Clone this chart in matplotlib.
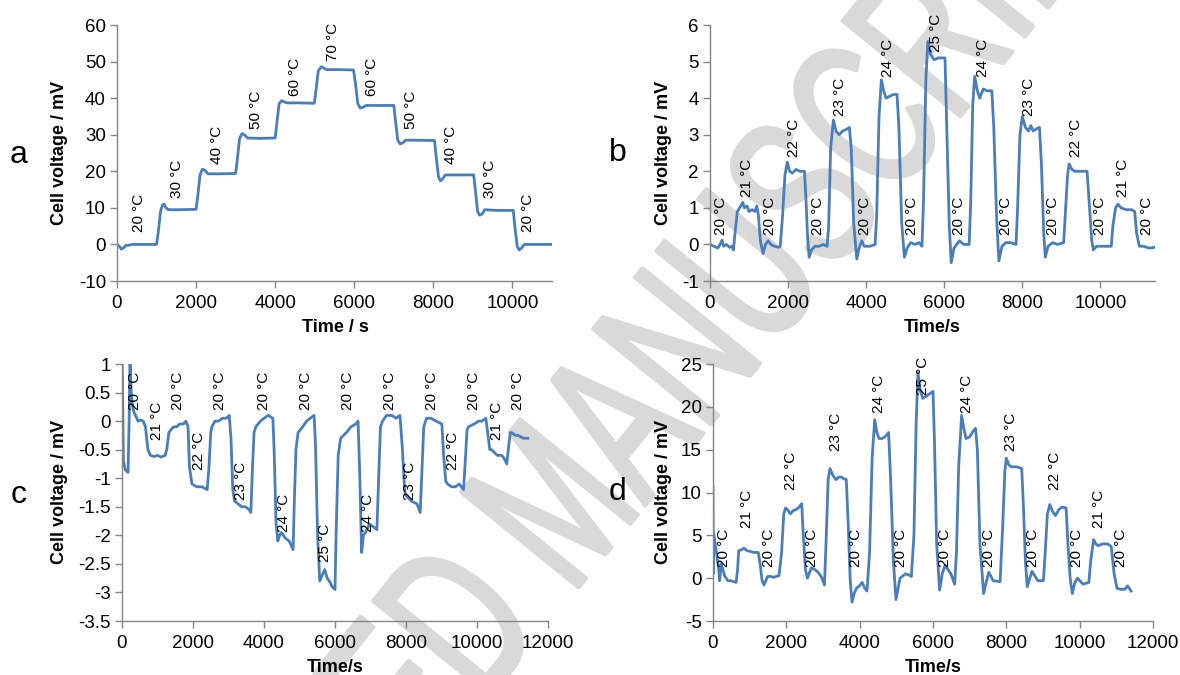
import matplotlib
matplotlib.use("Agg")
import matplotlib.pyplot as plt
from matplotlib.textpath import TextPath
from matplotlib.patches import PathPatch
from matplotlib.font_manager import FontProperties
from matplotlib.transforms import Affine2D, IdentityTransform
from matplotlib.ticker import MultipleLocator, FormatStrFormatter

plt.rcParams['font.family'] = ['Liberation Sans', 'DejaVu Sans']
plt.rcParams['axes.unicode_minus'] = False

# ---------------- data (time / s, cell voltage / mV) ----------------
a_points = [(0, 0), (60, -0.5), (110, -1.3), (160, -1.0), (220, -0.3), (300, -0.2), (400, 0), (1000, 0),
            (1040, 3), (1100, 9), (1150, 10.8), (1190, 11), (1240, 10), (1300, 9.5), (1600, 9.5), (2000, 9.6),
            (2040, 13), (2100, 19), (2160, 20.6), (2220, 20.3), (2300, 19.3), (2600, 19.3), (3000, 19.4),
            (3040, 23), (3100, 29), (3160, 30.3), (3220, 30), (3300, 29.1), (3600, 29), (4000, 29.1),
            (4040, 33), (4100, 38.5), (4160, 39.3), (4220, 39), (4300, 38.7), (4600, 38.7), (4990, 38.6),
            (5030, 42), (5090, 47.5), (5170, 48.6), (5230, 48.2), (5300, 47.8), (5600, 47.8), (5980, 47.7),
            (6030, 44), (6090, 38.5), (6150, 37.3), (6220, 37.5), (6300, 38), (6600, 38), (7000, 38),
            (7040, 34), (7100, 28.5), (7160, 27.5), (7230, 27.8), (7300, 28.5), (7600, 28.5), (8030, 28.4),
            (8070, 24), (8130, 18.5), (8180, 17.4), (8240, 18), (8300, 19), (8600, 19), (9020, 19),
            (9060, 15), (9120, 9), (9170, 8), (9230, 8.3), (9300, 9.5), (9600, 9.3), (10020, 9.3),
            (10060, 5), (10120, -0.5), (10170, -1.5), (10230, -1.0), (10300, 0), (10600, 0), (11000, 0)]

b_points = [(0, 0), (100, -0.05), (200, -0.1), (260, 0.0), (310, 0.12), (350, -0.05), (420, 0.0), (500, -0.08),
            (560, -0.05), (600, -0.15), (640, 0.3), (700, 0.9), (760, 1.0), (840, 1.15), (880, 1.0), (950, 1.05),
            (1000, 0.9), (1080, 0.95), (1150, 0.9), (1200, 1.05), (1240, 0.8), (1290, 0.1), (1360, -0.25),
            (1420, 0.0), (1490, 0.1), (1560, 0.0), (1650, -0.05), (1750, -0.08), (1800, -0.05), (1860, 0.8),
            (1920, 1.9), (1980, 2.25), (2040, 2.0), (2110, 1.95), (2200, 2.05), (2300, 2.0), (2420, 2.0),
            (2460, 1.2), (2500, 0.2), (2540, -0.35), (2600, -0.15), (2690, -0.05), (2800, -0.05), (2900, 0.0),
            (3000, -0.05), (3040, 0.5), (3090, 2.6), (3160, 3.4), (3230, 3.1), (3310, 3.0), (3400, 3.1),
            (3500, 3.15), (3570, 3.2), (3620, 2.6), (3680, 0.6), (3760, -0.4), (3820, -0.1), (3890, 0.1),
            (3950, -0.05), (4100, -0.05), (4230, 0.0), (4270, 0.8), (4330, 3.5), (4390, 4.5), (4450, 4.2),
            (4510, 4.0), (4600, 4.05), (4700, 4.1), (4790, 4.1), (4840, 3.2), (4910, 0.6), (4980, -0.35),
            (5050, -0.1), (5140, 0.05), (5250, 0.0), (5350, 0.05), (5430, -0.05), (5470, 1.2), (5530, 4.5),
            (5580, 5.55), (5650, 5.2), (5740, 5.05), (5850, 5.1), (5950, 5.1), (6020, 5.1), (6070, 3.0),
            (6130, 0.5), (6180, -0.5), (6250, -0.1), (6390, 0.1), (6500, 0.0), (6640, 0.0), (6680, 1.2),
            (6730, 3.8), (6780, 4.6), (6850, 4.2), (6910, 4.0), (7000, 4.25), (7100, 4.2), (7220, 4.2),
            (7270, 3.2), (7340, 0.8), (7400, -0.45), (7480, -0.05), (7580, 0.05), (7700, 0.05), (7840, 0.0),
            (7880, 1.0), (7940, 3.0), (8000, 3.5), (8080, 3.2), (8160, 3.1), (8220, 3.25), (8280, 3.1),
            (8350, 3.15), (8440, 3.2), (8490, 2.2), (8550, 0.3), (8590, -0.35), (8660, -0.05), (8780, 0.05),
            (8900, 0.0), (9060, 0.05), (9100, 0.8), (9160, 1.9), (9200, 2.2), (9270, 2.05), (9350, 2.0),
            (9500, 2.0), (9660, 2.0), (9710, 1.2), (9780, 0.1), (9820, -0.15), (9900, -0.05), (10050, -0.05),
            (10200, -0.05), (10280, -0.05), (10320, 0.5), (10390, 1.0), (10450, 1.1), (10530, 1.0),
            (10660, 0.95), (10800, 0.95), (10880, 0.9), (10930, 0.3), (11000, -0.05), (11100, -0.05),
            (11250, -0.1), (11400, -0.08)]

c_points = [(0, 1.3), (40, -0.7), (90, -0.85), (170, -0.9), (200, 0.0), (225, 1.1), (260, 0.5), (300, 0.25),
            (340, 0.15), (380, 0.1), (450, 0.0), (520, 0.02), (600, 0.0), (660, -0.1), (730, -0.5), (800, -0.6),
            (900, -0.62), (1000, -0.6), (1100, -0.63), (1215, -0.6), (1260, -0.5), (1320, -0.2), (1380, -0.15),
            (1460, -0.1), (1540, -0.1), (1620, -0.05), (1730, -0.05), (1800, 0.0), (1860, -0.1), (1900, -0.8),
            (1970, -1.1), (2100, -1.15), (2250, -1.15), (2400, -1.2), (2450, -0.8), (2500, -0.2), (2530, -0.1),
            (2620, 0.0), (2720, 0.0), (2830, 0.05), (2935, 0.05), (3020, 0.1), (3070, -0.3), (3120, -1.2),
            (3170, -1.4), (3270, -1.45), (3370, -1.5), (3480, -1.5), (3580, -1.55), (3630, -1.6), (3670, -0.9),
            (3720, -0.2), (3770, -0.1), (3900, 0.0), (4000, 0.05), (4120, 0.1), (4250, 0.05), (4290, -0.6),
            (4340, -1.8), (4390, -2.1), (4440, -2.0), (4490, -1.95), (4600, -2.05), (4710, -2.1), (4820, -2.25),
            (4850, -1.5), (4900, -0.5), (4960, -0.2), (5090, -0.1), (5200, 0.0), (5300, 0.05), (5410, 0.1),
            (5450, -0.4), (5510, -2.0), (5570, -2.8), (5640, -2.7), (5710, -2.6), (5780, -2.75), (5840, -2.8),
            (5920, -2.9), (6000, -2.95), (6030, -2.0), (6090, -0.6), (6160, -0.3), (6240, -0.25), (6320, -0.2),
            (6450, -0.1), (6590, -0.05), (6650, 0.0), (6700, -1.0), (6750, -2.3), (6800, -2.0), (6860, -1.95),
            (6970, -1.8), (7080, -1.85), (7180, -1.9), (7230, -1.0), (7280, -0.1), (7340, 0.0), (7450, 0.1),
            (7600, 0.1), (7720, 0.05), (7830, 0.1), (7900, -0.5), (7960, -1.2), (7990, -1.3), (8150, -1.4),
            (8310, -1.45), (8400, -1.6), (8440, -1.0), (8500, -0.1), (8580, 0.05), (8700, 0.05), (8850, 0.0),
            (9010, -0.05), (9060, -0.6), (9120, -1.05), (9170, -1.1), (9280, -1.15), (9390, -1.15), (9500, -1.1),
            (9620, -1.2), (9660, -0.8), (9720, -0.15), (9760, -0.1), (9920, -0.05), (10050, 0.0), (10140, 0.0),
            (10250, 0.05), (10300, -0.2), (10360, -0.5), (10410, -0.5), (10570, -0.6), (10700, -0.6),
            (10760, -0.65), (10840, -0.75), (10880, -0.5), (10940, -0.2), (10980, -0.2), (11080, -0.25),
            (11160, -0.25), (11300, -0.3), (11430, -0.3)]

d_points = [(0, 10.7), (10, 0.5), (20, 5.2), (60, 4.0), (110, 2.5), (160, 0.9), (180, -0.3), (225, 1.7),
            (315, 0.3), (405, -0.3), (500, -0.3), (630, -0.5), (670, 1.0), (700, 3.2), (770, 3.3), (845, 3.5),
            (930, 3.2), (1030, 3.1), (1130, 3.0), (1235, 3.0), (1290, 1.5), (1340, -0.3), (1390, -0.8),
            (1490, 0.2), (1570, 0.2), (1650, 0.1), (1800, 0.3), (1870, 3.0), (1930, 7.5), (1980, 8.2),
            (2050, 7.9), (2110, 7.5), (2190, 7.9), (2265, 8.0), (2350, 8.3), (2420, 8.7), (2450, 6.0),
            (2520, 1.0), (2575, 0.0), (2680, 1.2), (2780, 1.0), (2860, 0.7), (2935, 0.3), (3000, -0.3),
            (3040, -0.8), (3090, 5.0), (3140, 11.5), (3190, 12.8), (3270, 12.0), (3350, 11.5), (3430, 11.8),
            (3500, 11.8), (3570, 11.6), (3635, 11.5), (3690, 6.0), (3740, 0.0), (3790, -2.8), (3850, -1.8),
            (3910, -1.2), (3990, -0.9), (4070, -0.5), (4140, -1.2), (4200, -1.5), (4270, 3.0), (4340, 14.0),
            (4410, 18.5), (4470, 17.0), (4530, 16.3), (4610, 16.3), (4690, 16.5), (4790, 17.0), (4840, 12.0),
            (4920, 2.0), (4990, -2.5), (5100, 0.0), (5250, 0.5), (5330, 0.4), (5410, 0.2), (5480, 5.0),
            (5540, 18.0), (5590, 24.0), (5650, 22.0), (5720, 21.0), (5800, 21.2), (5900, 21.5), (6000, 21.8),
            (6040, 16.0), (6100, 4.0), (6180, -1.4), (6250, 0.5), (6330, 1.5), (6410, 1.0), (6490, 0.5),
            (6590, -0.7), (6640, 3.0), (6700, 13.0), (6780, 19.0), (6840, 17.5), (6900, 16.3), (7000, 16.5),
            (7100, 17.2), (7160, 17.5), (7210, 15.0), (7280, 4.0), (7380, -1.8), (7450, -0.5), (7520, 0.7),
            (7640, -0.3), (7830, -0.4), (7900, 6.0), (7960, 12.5), (8000, 14.0), (8070, 13.2), (8140, 13.0),
            (8280, 13.0), (8420, 12.8), (8470, 8.0), (8520, 2.0), (8570, -1.0), (8640, 0.0), (8700, 0.8),
            (8860, -0.3), (9010, -0.3), (9060, 3.0), (9120, 7.5), (9185, 8.6), (9260, 7.8), (9340, 7.3),
            (9430, 8.0), (9525, 8.3), (9630, 8.2), (9680, 4.0), (9740, 0.0), (9800, -1.8), (9870, -0.5),
            (9940, 0.0), (10090, -0.7), (10250, -0.5), (10300, 2.0), (10380, 4.5), (10440, 4.0), (10500, 3.8),
            (10630, 4.0), (10760, 4.0), (10860, 3.7), (10940, 0.5), (11020, -1.2), (11130, -1.3),
            (11230, -1.3), (11310, -0.9), (11400, -1.5)]

# temperature annotations: (label, time, voltage at text bottom)
a_labels = [("20 °C", 550, 3.5), ("30 °C", 1510, 12.6), ("40 °C", 2520, 22), ("50 °C", 3510, 31.5),
            ("60 °C", 4490, 40.6), ("70 °C", 5470, 50.2), ("60 °C", 6460, 40.6), ("50 °C", 7440, 31.5),
            ("40 °C", 8450, 22), ("30 °C", 9420, 12.6), ("20 °C", 10400, 3.5)]
b_labels = [("20 °C", 290, 0.27), ("21 °C", 940, 1.3), ("20 °C", 1540, 0.27), ("22 °C", 2150, 2.4),
            ("20 °C", 2770, 0.27), ("23 °C", 3340, 3.5), ("20 °C", 3970, 0.27), ("24 °C", 4550, 4.57),
            ("20 °C", 5170, 0.27), ("25 °C", 5780, 5.27), ("20 °C", 6390, 0.27), ("24 °C", 6990, 4.57),
            ("20 °C", 7580, 0.27), ("23 °C", 8180, 3.5), ("20 °C", 8780, 0.27), ("22 °C", 9375, 2.4),
            ("20 °C", 10000, 0.27), ("21 °C", 10590, 1.3), ("20 °C", 11200, 0.27)]
c_labels = [("20 °C", 355, 0.19), ("21 °C", 980, -0.33), ("20 °C", 1590, 0.19), ("22 °C", 2160, -0.86),
            ("20 °C", 2770, 0.19), ("23 °C", 3340, -1.39), ("20 °C", 4010, 0.19), ("24 °C", 4550, -1.94),
            ("20 °C", 5190, 0.19), ("25 °C", 5730, -2.47), ("20 °C", 6380, 0.19), ("24 °C", 6935, -1.94),
            ("20 °C", 7560, 0.19), ("23 °C", 8120, -1.39), ("20 °C", 8740, 0.19), ("22 °C", 9330, -0.86),
            ("20 °C", 9925, 0.19), ("21 °C", 10570, -0.33), ("20 °C", 11160, 0.19)]
d_labels = [("20 °C", 310, 1.33), ("21 °C", 930, 5.8), ("20 °C", 1520, 1.33), ("22 °C", 2130, 10.3),
            ("20 °C", 2710, 1.33), ("23 °C", 3350, 14.8), ("20 °C", 3910, 1.33), ("24 °C", 4530, 19.3),
            ("20 °C", 5130, 1.33), ("25 °C", 5720, 21.4), ("20 °C", 6330, 1.33), ("24 °C", 6930, 19.3),
            ("20 °C", 7520, 1.33), ("23 °C", 8140, 14.8), ("20 °C", 8730, 1.33), ("22 °C", 9320, 10.3),
            ("20 °C", 9920, 1.33), ("21 °C", 10520, 5.8), ("20 °C", 11120, 1.33)]

W, H = 1180, 675
LINE = '#4A7EBB'
GREY = '#868686'

fig = plt.figure(figsize=(W / 100, H / 100), dpi=100)

# ---------------- watermark (large grey diagonal lettering) ----------------
fp = FontProperties(family='Liberation Sans')
wsize = 220
wm = TextPath((0, 0), "ACCEPTED MANUSCRIPT", size=wsize, prop=fp)
u_left = TextPath((0, 0), "ACCEPTED MAN", size=wsize, prop=fp).get_extents().x1
u_right = TextPath((0, 0), "ACCEPTED MANU", size=wsize, prop=fp).get_extents().x1
u_mid = 0.5 * (u_left + u_right)
tr = Affine2D().translate(-u_mid, 0).scale(0.636, 1.0).rotate_deg(51).translate(792, H - 324)
fig.add_artist(PathPatch(tr.transform_path(wm), facecolor='#d9d9d9', edgecolor='#d9d9d9', lw=3,
                         joinstyle='round', transform=IdentityTransform(), zorder=-1))


def make_axes(px_left, px_right, px_top, px_bottom):
    return fig.add_axes([px_left / W, 1 - px_bottom / H, (px_right - px_left) / W, (px_bottom - px_top) / H])


def style(ax, points, labels, xlim, ylim, xstep, ystep, yfmt):
    t = [p[0] for p in points]
    v = [p[1] for p in points]
    ax.plot(t, v, color=LINE, lw=2.0, solid_joinstyle='round')
    ax.set_xlim(*xlim)
    ax.set_ylim(*ylim)
    ax.xaxis.set_major_locator(MultipleLocator(xstep))
    ax.yaxis.set_major_locator(MultipleLocator(ystep))
    ax.yaxis.set_major_formatter(FormatStrFormatter(yfmt))
    ax.set_facecolor('none')
    for s in ['top', 'right']:
        ax.spines[s].set_visible(False)
    for s in ['left', 'bottom']:
        ax.spines[s].set_color(GREY)
        ax.spines[s].set_linewidth(1.0)
    ax.tick_params(axis='both', colors=GREY, labelcolor='black', labelsize=13.5, length=5, width=1.0,
                   direction='out')
    ax.tick_params(axis='x', pad=5)
    ax.tick_params(axis='y', pad=3)
    for txt, tx, ty in labels:
        ax.text(tx, ty, txt, rotation=90, ha='center', va='bottom', fontsize=11, color='black')


ax_a = make_axes(117, 552, 25, 281)
style(ax_a, a_points, a_labels, (0, 11000), (-10, 60), 2000, 10, '%g')
ax_b = make_axes(710, 1155, 25, 281)
style(ax_b, b_points, b_labels, (0, 11400), (-1, 6), 2000, 1, '%g')
ax_c = make_axes(122, 548, 364, 621)
style(ax_c, c_points, c_labels, (0, 12000), (-3.5, 1), 2000, 0.5, '%g')
ax_d = make_axes(713, 1153, 364, 621)
style(ax_d, d_points, d_labels, (0, 12000), (-5, 25), 2000, 5, '%g')


def ftext(x, y, s, **kw):
    fig.text(x / W, 1 - y / H, s, **kw)


for x, y in [(60, 153), (663, 153), (60, 492), (663, 492)]:
    ftext(x, y, "Cell voltage / mV", rotation=90, ha='center', va='center', fontsize=13, fontweight='bold')
ftext(335, 328, "Time / s", ha='center', va='center', fontsize=13, fontweight='bold')
ftext(932, 328, "Time/s", ha='center', va='center', fontsize=13, fontweight='bold')
ftext(335, 668, "Time/s", ha='center', va='center', fontsize=13, fontweight='bold')
ftext(933, 668, "Time/s", ha='center', va='center', fontsize=13, fontweight='bold')

for x, y, s in [(19, 155, "a"), (618, 153, "b"), (19, 495, "c"), (617, 492, "d")]:
    ftext(x, y, s, ha='center', va='center', fontsize=23)

fig.savefig("out.png", dpi=100)
